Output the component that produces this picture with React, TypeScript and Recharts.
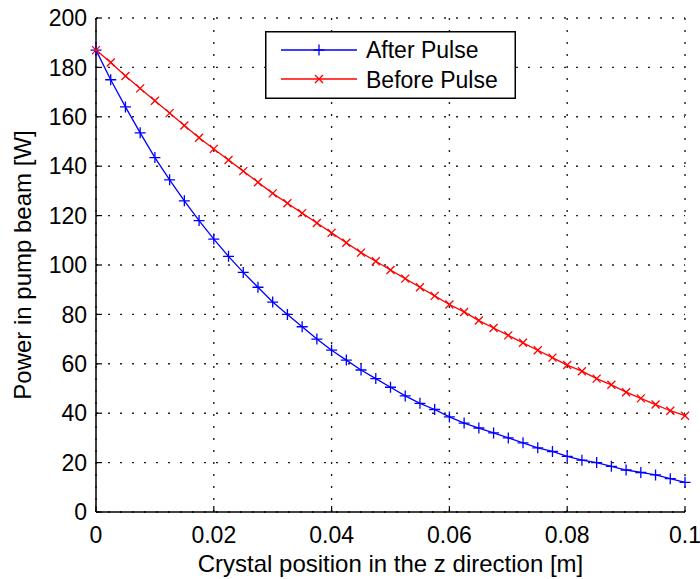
import { LineChart, Line, XAxis, YAxis, CartesianGrid, Legend, Label } from "recharts"

// crystal position z [m], one marker every 2.5 mm
const zPositions = [
  0, 0.0025, 0.005, 0.0075, 0.01, 0.0125, 0.015, 0.0175, 0.02, 0.0225,
  0.025, 0.0275, 0.03, 0.0325, 0.035, 0.0375, 0.04, 0.0425, 0.045, 0.0475,
  0.05, 0.0525, 0.055, 0.0575, 0.06, 0.0625, 0.065, 0.0675, 0.07, 0.0725,
  0.075, 0.0775, 0.08, 0.0825, 0.085, 0.0875, 0.09, 0.0925, 0.095, 0.0975,
  0.1,
]

// pump power [W]
const afterPulse = [
  187, 175, 164, 153.5, 143.5, 134.5, 126, 118, 110.5, 103.5,
  97, 91, 85, 80, 75, 70, 65.5, 61.5, 57.5, 54,
  50.5, 47, 44, 41.5, 38.5, 36, 34, 32, 30, 28,
  26, 24.5, 22.5, 21, 20, 18.5, 17, 16, 15, 13.5,
  12,
]

const beforePulse = [
  187, 182, 176.5, 171.5, 166.5, 161.5, 156.5, 151.5, 147, 142.5,
  138, 133.5, 129, 125, 121, 117, 113, 109, 105, 101.5,
  98, 94.5, 91, 87.5, 84, 81, 77.5, 74.5, 71.5, 68.5,
  65.5, 62.5, 59.5, 57, 54, 51.5, 48.5, 46, 43.5, 41,
  39,
]

const seriesNames = ["After Pulse", "Before Pulse"]
const xTicks = [0, 0.02, 0.04, 0.06, 0.08, 0.1]
const yTicks = [0, 20, 40, 60, 80, 100, 120, 140, 160, 180, 200]

const data = zPositions.map((z, i) => ({
  z,
  after: afterPulse[i],
  before: beforePulse[i],
}))

const FONT = "'Liberation Sans', Arial, Helvetica, sans-serif"
const BLUE = "#0000ff"
const RED = "#ff0000"

const PlusDot = (props: any) => {
  const { cx, cy, index } = props
  if (cx == null || cy == null) return <g key={`p-${index}`} />
  const s = 5.5
  return (
    <path
      key={`p-${index}`}
      d={`M${cx - s},${cy}H${cx + s}M${cx},${cy - s}V${cy + s}`}
      stroke={BLUE}
      strokeWidth={1.3}
      fill="none"
    />
  )
}

const CrossDot = (props: any) => {
  const { cx, cy, index } = props
  if (cx == null || cy == null) return <g key={`x-${index}`} />
  const s = 4
  return (
    <path
      key={`x-${index}`}
      d={`M${cx - s},${cy - s}L${cx + s},${cy + s}M${cx - s},${cy + s}L${cx + s},${cy - s}`}
      stroke={RED}
      strokeWidth={1.3}
      fill="none"
    />
  )
}

const LegendBox = () => (
  <svg width={251} height={68} style={{ display: "block" }}>
    <rect x={0.75} y={0.75} width={249.5} height={66.5} fill="#fff" stroke="#000" strokeWidth={1.5} />
    <line x1={16} x2={92} y1={19} y2={19} stroke={BLUE} strokeWidth={1.3} />
    <path d="M48.5,19H59.5M54,13.5V24.5" stroke={BLUE} strokeWidth={1.3} />
    <text x={101} y={27} fontSize={23} fontFamily={FONT} fill="#000">{seriesNames[0]}</text>
    <line x1={16} x2={92} y1={48} y2={48} stroke={RED} strokeWidth={1.3} />
    <path d="M50,44L58,52M50,52L58,44" stroke={RED} strokeWidth={1.3} />
    <text x={101} y={57} fontSize={23} fontFamily={FONT} fill="#000">{seriesNames[1]}</text>
  </svg>
)

const tickStyle = { fontSize: 23, fontFamily: FONT, fill: "#000" }
const axisLine = { stroke: "#000", strokeWidth: 1.5 }
const tickLine = { stroke: "#000", strokeWidth: 1.2 }

export default function App() {
  return (
    <div style={{ position: "absolute", left: 0, top: 0, width: 700, height: 579, background: "#fff" }}>
      <LineChart
        width={700}
        height={579}
        data={data}
        margin={{ top: 18, right: 15, bottom: 0, left: 0 }}
      >
        <CartesianGrid
          stroke="#222"
          strokeWidth={1.4}
          strokeDasharray="2 10"
        />

        <XAxis
          dataKey="z"
          type="number"
          domain={[0, 0.1]}
          ticks={xTicks}
          tickFormatter={(v: number) => String(v)}
          height={67}
          tickSize={-6}
          tickMargin={21}
          tick={tickStyle}
          axisLine={axisLine}
          tickLine={tickLine}
        >
          <Label
            content={({ viewBox }: any) => (
              <text
                x={viewBox.x + viewBox.width / 2}
                y={viewBox.y + 60}
                textAnchor="middle"
                fontSize={24}
                fontFamily={FONT}
                fill="#000"
              >
                Crystal position in the z direction [m]
              </text>
            )}
          />
        </XAxis>

        <XAxis
          xAxisId="top"
          orientation="top"
          dataKey="z"
          type="number"
          domain={[0, 0.1]}
          ticks={xTicks}
          tickFormatter={() => ""}
          height={0}
          tickSize={-6}
          axisLine={axisLine}
          tickLine={tickLine}
        />

        <YAxis
          type="number"
          domain={[0, 200]}
          ticks={yTicks}
          width={96}
          tickSize={-6}
          tickMargin={15}
          tick={tickStyle}
          axisLine={axisLine}
          tickLine={tickLine}
        >
          <Label
            content={({ viewBox }: any) => {
              const cx = 31
              const cy = viewBox.y + viewBox.height / 2
              return (
                <text
                  x={cx}
                  y={cy}
                  transform={`rotate(-90 ${cx} ${cy})`}
                  textAnchor="middle"
                  fontSize={24}
                  fontFamily={FONT}
                  fill="#000"
                >
                  Power in pump beam [W]
                </text>
              )
            }}
          />
        </YAxis>

        <YAxis
          yAxisId="right"
          orientation="right"
          type="number"
          domain={[0, 200]}
          ticks={yTicks}
          tickFormatter={() => ""}
          width={0}
          tickSize={-6}
          axisLine={axisLine}
          tickLine={tickLine}
        />

        <Legend
          layout="horizontal"
          verticalAlign="middle"
          align="center"
          content={() => <LegendBox />}
          wrapperStyle={{ position: "absolute", left: 265, top: 31, width: 251, height: 68 }}
        />

        <Line
          type="linear"
          dataKey="after"
          name={seriesNames[0]}
          stroke={BLUE}
          strokeWidth={1.3}
          dot={PlusDot}
          activeDot={false}
          isAnimationActive={false}
        />
        <Line
          type="linear"
          dataKey="before"
          name={seriesNames[1]}
          stroke={RED}
          strokeWidth={1.3}
          dot={CrossDot}
          activeDot={false}
          isAnimationActive={false}
        />
      </LineChart>
    </div>
  )
}
